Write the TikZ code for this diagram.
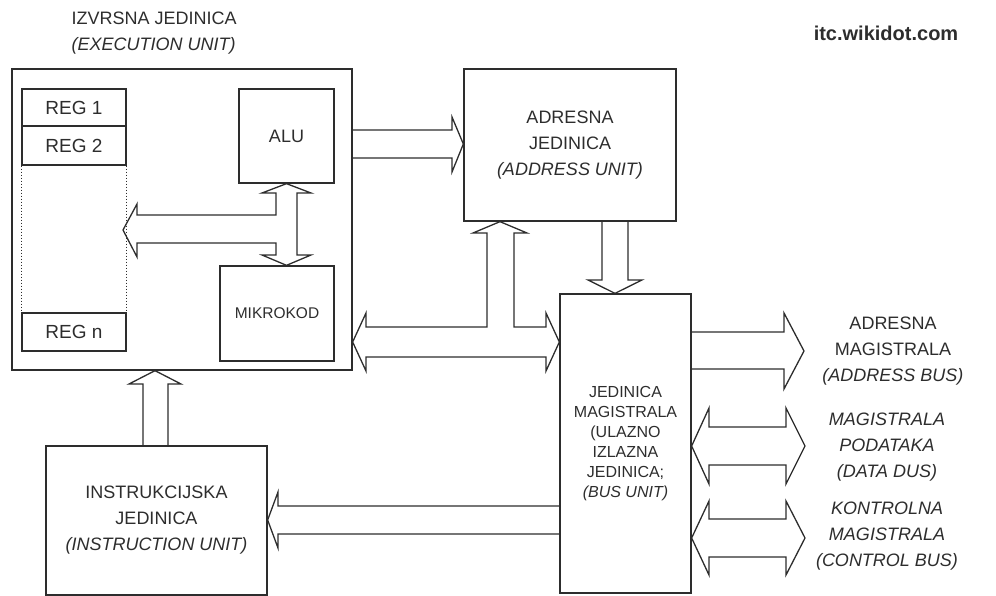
\documentclass[tikz,border=0pt]{standalone}
\usepackage{fontspec}
\setmainfont{Liberation Sans}
\definecolor{ink}{RGB}{45,45,45}
\tikzset{
  unit/.style={draw=ink, line width=1.3pt, align=center, text=ink, inner sep=0pt,
    font=\fontsize{18}{26}\selectfont},
  reg/.style={unit, minimum width=104pt, font=\fontsize{19}{22}\selectfont},
  fatbus/.style={draw=ink, line width=1.3pt, line join=miter},
  buslabel/.style={align=center, text=ink, font=\fontsize{18}{26}\selectfont},
  regdots/.style={draw=ink, line width=1.2pt, dash pattern=on 1.4pt off 1.6pt},
}
\begin{document}
\begin{tikzpicture}[x=1pt, y=-1pt]
\useasboundingbox (0,0) rectangle (996,596);
\node[text=ink, font=\bfseries\fontsize{20}{24}\selectfont] (site) at (886,33) {itc.wikidot.com};
% execution unit
\node[unit, minimum width=340pt, minimum height=301pt] (exu) at (182,219.5) {};
\node[buslabel, align=left, anchor=west] (exutitle) at (68,33) {IZVRSNA JEDINICA\\\textit{(EXECUTION UNIT)}};
\node[reg, minimum height=37pt] (reg1) at (74,107.5) {REG 1};
\node[reg, minimum height=39pt] (reg2) at (74,145.5) {REG 2};
\node[reg, minimum height=38pt] (regn) at (74,332) {REG n};
\draw[regdots] (reg2.south west) -- (regn.north west);
\draw[regdots] (reg2.south east) -- (regn.north east);
\node[unit, minimum width=95pt, minimum height=94pt] (alu) at (286.5,136) {ALU};
\node[unit, minimum width=114pt, minimum height=95pt, font=\fontsize{15.5}{18}\selectfont] (mik) at (277,313.5) {MIKROKOD};
% other units
\node[unit, minimum width=212pt, minimum height=152pt] (adu) at (570,145) {ADRESNA\\JEDINICA\\\textit{(ADDRESS UNIT)}};
\node[unit, minimum width=131pt, minimum height=299pt, font=\fontsize{16}{20}\selectfont] (bsu) at (625.5,443.5) {JEDINICA\\MAGISTRALA\\(ULAZNO\\IZLAZNA\\JEDINICA;\\\textit{(BUS UNIT)}};
\node[unit, minimum width=221pt, minimum height=149pt] (inu) at (156.5,520.5) {INSTRUKCIJSKA\\JEDINICA\\\textit{(INSTRUCTION UNIT)}};
% bus labels
\node[buslabel] (abuslbl) at (893,351) {ADRESNA\\MAGISTRALA\\\textit{(ADDRESS BUS)}};
\node[buslabel, font=\itshape\fontsize{18}{26}\selectfont] (dbuslbl) at (887,447) {MAGISTRALA\\PODATAKA\\(DATA DUS)};
\node[buslabel, font=\itshape\fontsize{18}{26}\selectfont] (cbuslbl) at (887,536) {KONTROLNA\\MAGISTRALA\\(CONTROL BUS)};
% fat arrows
\draw[fatbus] (exu.east |- 0,130) -- (452,130) -- (452,117) -- (adu.west |- 0,144) -- (452,172) -- (452,158) -- (exu.east |- 0,158);
\draw[fatbus] (alu.south) -- (311,193) -- (297,193) -- (297,255) -- (311,255) -- (alu.south |- mik.north) -- (262,255) -- (276,255) -- (276,243) -- (137,243) -- (137,257) -- (123,230) -- (137,204) -- (137,215) -- (276,215) -- (276,193) -- (262,193) -- cycle;
\draw[fatbus] (exu.east |- 0,342) -- (366,313) -- (366,327) -- (487,327) -- (487,233) -- (473,233) -- (500,0 |- adu.south) -- (527,233) -- (514,233) -- (514,327) -- (546,327) -- (546,313) -- (bsu.west |- 0,342) -- (546,371) -- (546,357) -- (366,357) -- (366,371) -- cycle;
\draw[fatbus] (602,0 |- adu.south) -- (602,280) -- (588,280) -- (615,0 |- bsu.north) -- (642,280) -- (628,280) -- (628,0 |- adu.south);
\draw[fatbus] (143,0 |- inu.north) -- (143,384) -- (129,384) -- (155,0 |- exu.south) -- (181,384) -- (168,384) -- (168,0 |- inu.north);
\draw[fatbus] (bsu.west |- 0,506) -- (278,506) -- (278,492) -- (inu.east |- 0,520) -- (278,548) -- (278,534) -- (bsu.west |- 0,534);
% external buses
\coordinate (abus) at (804,351);
\coordinate (dbus) at (805,446);
\coordinate (cbus) at (805,538);
\draw[fatbus] (bsu.east |- 0,332) -- (784,332) -- (784,313) -- (abus) -- (784,389) -- (784,369) -- (bsu.east |- 0,369);
\draw[fatbus] (bsu.east |- 0,446) -- (709,408) -- (709,427) -- (786,427) -- (786,408) -- (dbus) -- (786,484) -- (786,465) -- (709,465) -- (709,484) -- cycle;
\draw[fatbus] (bsu.east |- 0,538) -- (709,501) -- (709,519) -- (786,519) -- (786,501) -- (cbus) -- (786,575) -- (786,557) -- (709,557) -- (709,575) -- cycle;
\end{tikzpicture}
\end{document}
